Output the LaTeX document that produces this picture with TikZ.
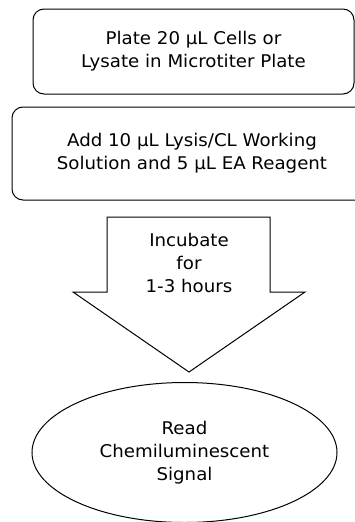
\documentclass[tikz,border=0pt]{standalone}
\usepackage{fontspec}
\setmainfont{DejaVu Sans}[FakeStretch=1.04]
\usetikzlibrary{shapes.geometric}
\begin{document}
\begin{tikzpicture}[x=1pt,y=-1pt,
  every node/.style={font=\fontsize{17.5}{23}\selectfont, align=center, inner sep=0pt},
  stepbox/.style={draw, line width=1pt, rounded corners=11pt},
  outline/.style={draw, line width=1pt}]
\useasboundingbox (0,0) rectangle (355,522);
\clip (0,0) rectangle (355,522);
\node[stepbox, minimum width=321pt, minimum height=85pt] (plate) at (193.5,51.5)
  {Plate 20 µL Cells or\\Lysate in Microtiter Plate};
\node[stepbox, minimum width=360pt, minimum height=93pt] (add) at (192,153.5)
  {Add 10 µL Lysis/CL Working\\Solution and 5 µL EA Reagent};
\draw[outline, line join=miter] (107,217) -- (270,217) -- (270,292) -- (305,292) -- (189,372)
  -- (73,292) -- (107,292) -- cycle;
\node (inc) at (189,263) {Incubate\\for\\1-3 hours};
\node[ellipse, outline, minimum width=305pt, minimum height=140pt] (read) at (184.5,452.5)
  {Read\\Chemiluminescent\\Signal};
\end{tikzpicture}
\end{document}
